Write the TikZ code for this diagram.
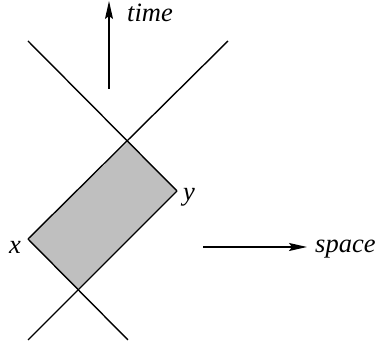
\documentclass[tikz,border=0pt]{standalone}
\usepackage{fontspec}
\setmainfont{Liberation Serif}
\usetikzlibrary{arrows.meta, positioning}

\begin{document}
\begin{tikzpicture}[
    x=1pt, y=1pt,
    line/.style={line width=1.4pt},
    arrow/.style={-{Stealth[length=18pt,width=8pt,inset=3pt]}, line width=1.4pt},
    lbl/.style={font=\fontsize{26.5}{30}\selectfont\itshape, inner sep=0pt, anchor=base west}
]
\useasboundingbox (0,0) rectangle (375,347);

% corners of the shaded region
\coordinate (T) at (128,205);
\coordinate (Y) at (177,156);
\coordinate (B) at (78,58);
\coordinate (X) at (28,108);

% free ends of the light-cone lines
\coordinate (UL) at (28,306);
\coordinate (UR) at (228,306);
\coordinate (LL) at (28,7);
\coordinate (LR) at (128,7);

\fill [gray!50] (T) -- (Y) -- (B) -- (X) -- cycle;
\draw [line] (UL) -- (Y);
\draw [line] (UR) -- (X);
\draw [line] (X) -- (LR);
\draw [line] (Y) -- (LL);

% axes
\coordinate (t0) at (109,258);
\coordinate (t1) at (109,346);
\coordinate (s0) at (203,100);
\coordinate (s1) at (307,100);
\draw [arrow] (t0) -- (t1);
\draw [arrow] (s0) -- (s1);

\node (time) [lbl] at (127,325) {time};
\node (space) [lbl] at (315,94) {space};
\node (x) [lbl] at (9,93) {x};
\node (y) [lbl] at (183,146) {y};

\end{tikzpicture}
\end{document}
